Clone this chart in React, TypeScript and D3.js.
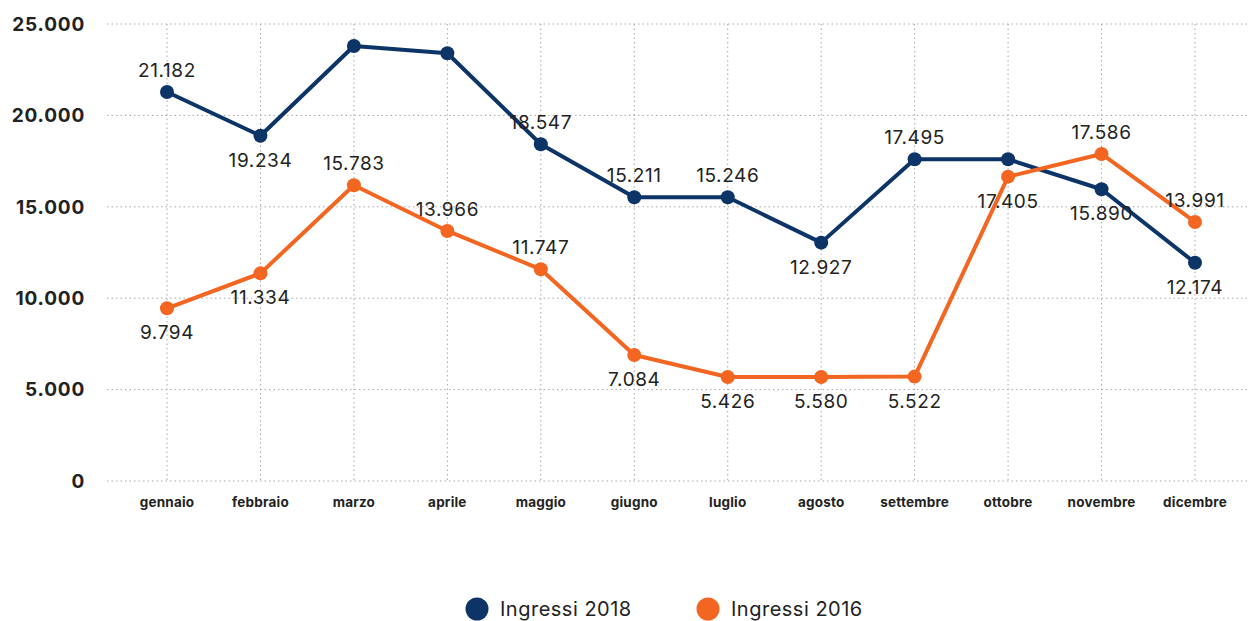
import React from "react";
import * as d3 from "d3";

const months = ["gennaio","febbraio","marzo","aprile","maggio","giugno","luglio","agosto","settembre","ottobre","novembre","dicembre"];
const ingressi2018 = [21280, 18890, 23800, 23400, 18420, 15520, 15520, 13040, 17600, 17600, 15960, 11940];
const ingressi2016 = [9450, 11360, 16180, 13680, 11580, 6890, 5690, 5690, 5710, 16650, 17890, 14170];
const labels2018: (string | null)[] = ["21.182","19.234",null,null,"18.547","15.211","15.246","12.927","17.495",null,"15.890","12.174"];
const labels2016: (string | null)[] = ["9.794","11.334","15.783","13.966","11.747","7.084","5.426","5.580","5.522","17.405","17.586","13.991"];
const place2018 = ["a","b","a","a","a","a","a","b","a","b","b","b"];
const place2016 = ["b","b","a","a","a","b","b","b","b","b","a","a"];
const yTicks = [0, 5000, 10000, 15000, 20000, 25000];
const seriesNames = ["Ingressi 2018", "Ingressi 2016"];

const W = 1248, H = 621;
const BLUE = "#0c3467";
const ORANGE = "#f36621";

export default function App() {
  const x = d3.scalePoint<string>().domain(months).range([167, 1195]);
  const y = d3.scaleLinear().domain([0, 25000]).range([481, 24]);
  const line = d3.line<number>().x((_, i) => x(months[i])!).y((v) => y(v));
  const fmt = (v: number) => d3.format(",")(v).replace(/,/g, ".");

  const series = [
    { values: ingressi2018, labels: labels2018, place: place2018, color: BLUE },
    { values: ingressi2016, labels: labels2016, place: place2016, color: ORANGE },
  ];

  return (
    <svg width={W} height={H} style={{ position: "absolute", left: 0, top: 0, background: "#fff" }}
      fontFamily="Inter, 'Noto Sans', sans-serif">
      {yTicks.map((t) => (
        <line key={"h" + t} x1={107} x2={W} y1={y(t)} y2={y(t)} stroke="#a8a8a8" strokeWidth={1} strokeDasharray="1.5,3" />
      ))}
      {months.map((m) => (
        <line key={"v" + m} x1={x(m)} x2={x(m)} y1={y(25000)} y2={y(0)} stroke="#a8a8a8" strokeWidth={1} strokeDasharray="1.5,3" />
      ))}
      {yTicks.map((t) => (
        <text key={"yl" + t} x={85} y={y(t)} dy="0.36em" textAnchor="end" fontSize={19} fontWeight={700} fill="#222" letterSpacing={0.8}>
          {fmt(t)}
        </text>
      ))}
      {months.map((m) => (
        <text key={"xl" + m} x={x(m)} y={507} textAnchor="middle" fontSize={13.5} fontWeight={700} fill="#222" letterSpacing={0.2}>
          {m}
        </text>
      ))}
      {series.map((s, si) => (
        <g key={"s" + si}>
          <path d={line(s.values)!} fill="none" stroke={s.color} strokeWidth={4} strokeLinejoin="round" />
          {s.values.map((v, i) => (
            <circle key={i} cx={x(months[i])} cy={y(v)} r={7} fill={s.color} />
          ))}
        </g>
      ))}
      {series.map((s, si) =>
        s.values.map((v, i) =>
          s.labels[i] ? (
            <text key={"lab" + si + "_" + i} x={x(months[i])} y={y(v) + (s.place[i] === "a" ? -15 : 31)}
              textAnchor="middle" fontSize={19} fill="#222" letterSpacing={0.6}>
              {s.labels[i]}
            </text>
          ) : null
        )
      )}
      {seriesNames.map((n, i) => (
        <g key={"lg" + i} transform={`translate(${[477, 708][i]},609)`}>
          <circle r={11.5} fill={series[i].color} />
          <text x={23} y={7} fontSize={20} fill="#222" letterSpacing={0.5}>{n}</text>
        </g>
      ))}
    </svg>
  );
}
